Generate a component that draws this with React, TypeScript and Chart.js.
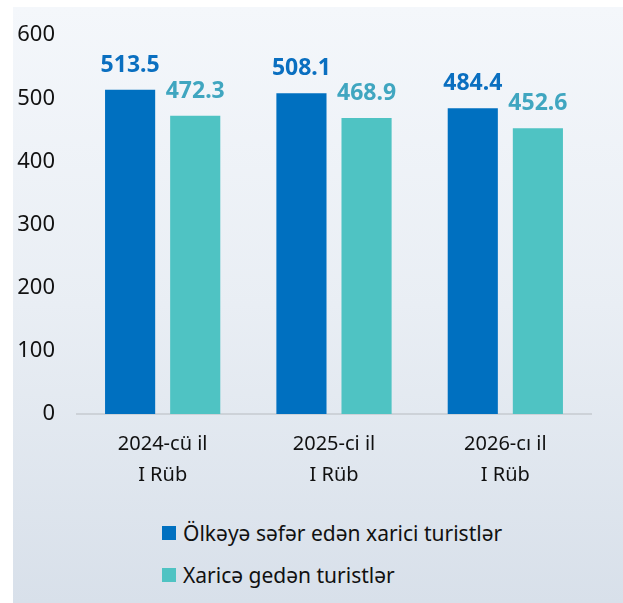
import React, { useEffect, useRef } from "react";
import { Chart, registerables } from "chart.js";

Chart.register(...registerables);

const categories: string[][] = [
  ["2024-cü il", "I Rüb"],
  ["2025-ci il", "I Rüb"],
  ["2026-cı il", "I Rüb"],
];
const seriesNames = ["Ölkəyə səfər edən xarici turistlər", "Xaricə gedən turistlər"];
const incoming = [513.5, 508.1, 484.4];
const outgoing = [472.3, 468.9, 452.6];
const yTicks = [0, 100, 200, 300, 400, 500, 600];

const barColors = ["#0070c0", "#4fc3c3"];
const labelColors = ["#0a6fc0", "#40a6c0"];
const FONT = "'Noto Sans', sans-serif";

const valueLabels = {
  id: "valueLabels",
  afterDatasetsDraw(chart: any) {
    const ctx = chart.ctx;
    ctx.save();
    ctx.font = `bold 23px ${FONT}`;
    ctx.textAlign = "center";
    ctx.textBaseline = "alphabetic";
    chart.data.datasets.forEach((ds: any, di: number) => {
      const meta = chart.getDatasetMeta(di);
      ctx.fillStyle = labelColors[di];
      meta.data.forEach((bar: any, i: number) => {
        ctx.fillText(Number(ds.data[i]).toFixed(1), bar.x, bar.y - 18);
      });
    });
    ctx.restore();
  },
};

export default function App() {
  const ref = useRef<HTMLCanvasElement | null>(null);

  useEffect(() => {
    if (!ref.current) return;
    const chart = new Chart(ref.current, {
      type: "bar",
      data: {
        labels: categories,
        datasets: [
          { label: seriesNames[0], data: incoming, backgroundColor: barColors[0] },
          { label: seriesNames[1], data: outgoing, backgroundColor: barColors[1] },
        ],
      },
      options: {
        responsive: false,
        animation: false,
        categoryPercentage: 0.76,
        barPercentage: 0.77,
        layout: { padding: { top: 35, right: 32, bottom: 0, left: 0 } },
        plugins: {
          legend: { display: false },
          tooltip: { enabled: false },
        },
        scales: {
          x: {
            grid: { display: false, drawTicks: false },
            border: { display: true, color: "#cdd2d8", width: 2 },
            ticks: {
              color: "#111111",
              font: { family: FONT, size: 20, lineHeight: 1.55 },
              padding: 15,
            },
            afterFit: (scale: any) => {
              scale.height = 86;
            },
          },
          y: {
            min: 0,
            max: 600,
            afterBuildTicks: (scale: any) => {
              scale.ticks = yTicks.map((v) => ({ value: v }));
            },
            grid: { display: false, drawTicks: false },
            border: { display: false },
            ticks: {
              color: "#111111",
              font: { family: FONT, size: 22 },
              padding: 22,
            },
            afterFit: (scale: any) => {
              scale.width = 77;
            },
          },
        },
      } as any,
      plugins: [valueLabels],
    });
    return () => chart.destroy();
  }, []);

  return (
    <div
      style={{
        position: "fixed",
        left: 0,
        top: 0,
        width: 623,
        height: 603,
        background: "#ffffff",
        overflow: "hidden",
        fontFamily: FONT,
      }}
    >
      <div
        style={{
          position: "absolute",
          left: 13,
          top: 7,
          width: 610,
          height: 596,
          background: "linear-gradient(180deg, #f4f7fb 0%, #e9eef4 50%, #d8e0ea 100%)",
        }}
      />
      <canvas
        ref={ref}
        width={623}
        height={500}
        style={{ position: "absolute", left: 0, top: 0, width: 623, height: 500 }}
      />
      {seriesNames.map((name, i) => (
        <div
          key={name}
          style={{
            position: "absolute",
            left: 162,
            top: i === 0 ? 518 : 560,
            height: 30,
            display: "flex",
            alignItems: "center",
            fontSize: 21,
            color: "#111111",
            whiteSpace: "nowrap",
          }}
        >
          <span
            style={{
              display: "inline-block",
              width: 14,
              height: 14,
              background: barColors[i],
              marginRight: 7,
            }}
          />
          <span>{name}</span>
        </div>
      ))}
    </div>
  );
}
